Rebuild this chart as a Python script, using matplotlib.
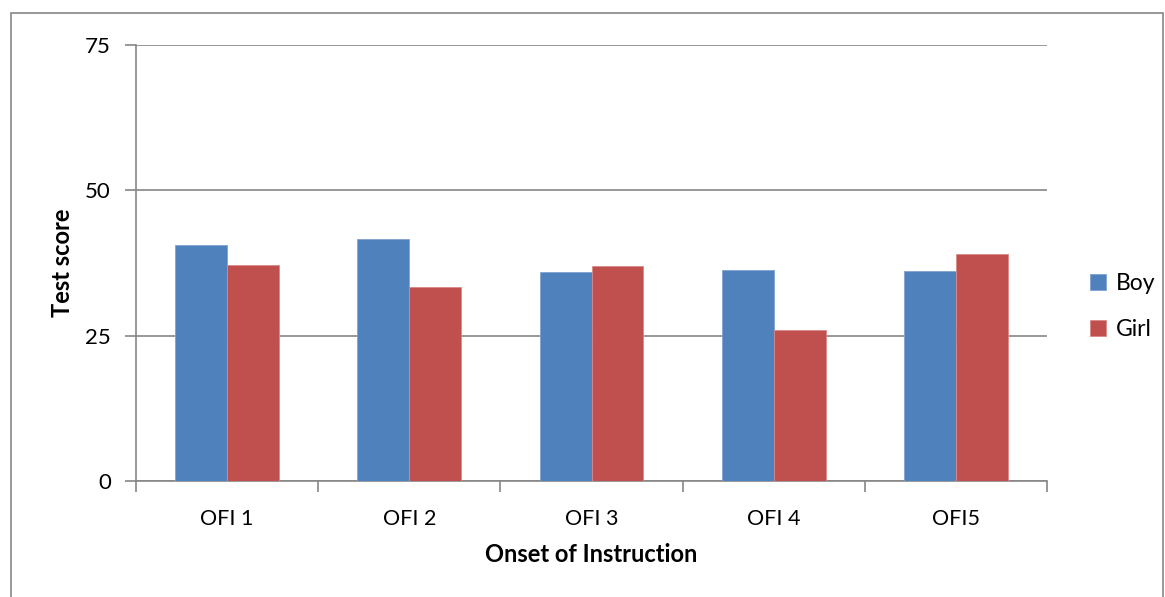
import numpy as np
import matplotlib.pyplot as plt
from matplotlib.patches import Rectangle

plt.rcParams['font.family'] = ['Lato', 'DejaVu Sans']

grupos = ["OFI 1", "OFI 2", "OFI 3", "OFI 4", "OFI5"]
boy = [40.5, 41.6, 35.9, 36.2, 36.1]
girl = [37.2, 33.4, 36.9, 25.9, 39.1]

azul = "#4F81BD"
rojo = "#C0504D"
gris = "#868686"

fig = plt.figure(figsize=(11.65, 5.97), dpi=100)
# marco del grafico
fig.patches.append(Rectangle((11/1165, -0.05), 1152/1165, 1.05 - 13/597,
                             transform=fig.transFigure, fill=False,
                             edgecolor=gris, linewidth=1.2))

ax = fig.add_axes([136/1165, 1 - 481/597, 911/1165, (481 - 44.7)/597])

x = np.arange(len(grupos))
w = 0.285
ax.bar(x - w/2, boy, w, color=azul, edgecolor="#7FA3D0", linewidth=0.6, label="Boy", zorder=3)
ax.bar(x + w/2, girl, w, color=rojo, edgecolor="#D88A88", linewidth=0.6, label="Girl", zorder=3)

ax.set_xlim(-0.5, len(grupos) - 0.5)
ax.set_ylim(0, 75)
ax.set_yticks([0, 25, 50, 75])
ax.yaxis.grid(True, color=gris, linewidth=1.2, zorder=0)
ax.set_xticks(x)
ax.set_xticklabels(grupos)
ax.set_xticks(np.arange(len(grupos) + 1) - 0.5, minor=True)
ax.tick_params(axis="x", which="major", length=0, pad=20, labelsize=15.5)
ax.tick_params(axis="x", which="minor", length=8, width=1.2, color=gris)
ax.tick_params(axis="y", length=8, width=1.2, color=gris, labelsize=16, pad=10)

for s in ["top", "right"]:
    ax.spines[s].set_visible(False)
for s in ["left", "bottom"]:
    ax.spines[s].set_color(gris)
    ax.spines[s].set_linewidth(1.2)

ax.set_xlabel("Onset of Instruction", fontsize=17, fontweight="bold", labelpad=10)
ax.set_ylabel("Test score", fontsize=17, fontweight="bold", labelpad=8)

ax.legend(loc="center left", bbox_to_anchor=(1.025, 0.4), frameon=False,
          fontsize=16.5, handlelength=0.7, handleheight=0.7, handletextpad=0.4,
          labelspacing=1.1)

plt.savefig("out.png", dpi=100)
